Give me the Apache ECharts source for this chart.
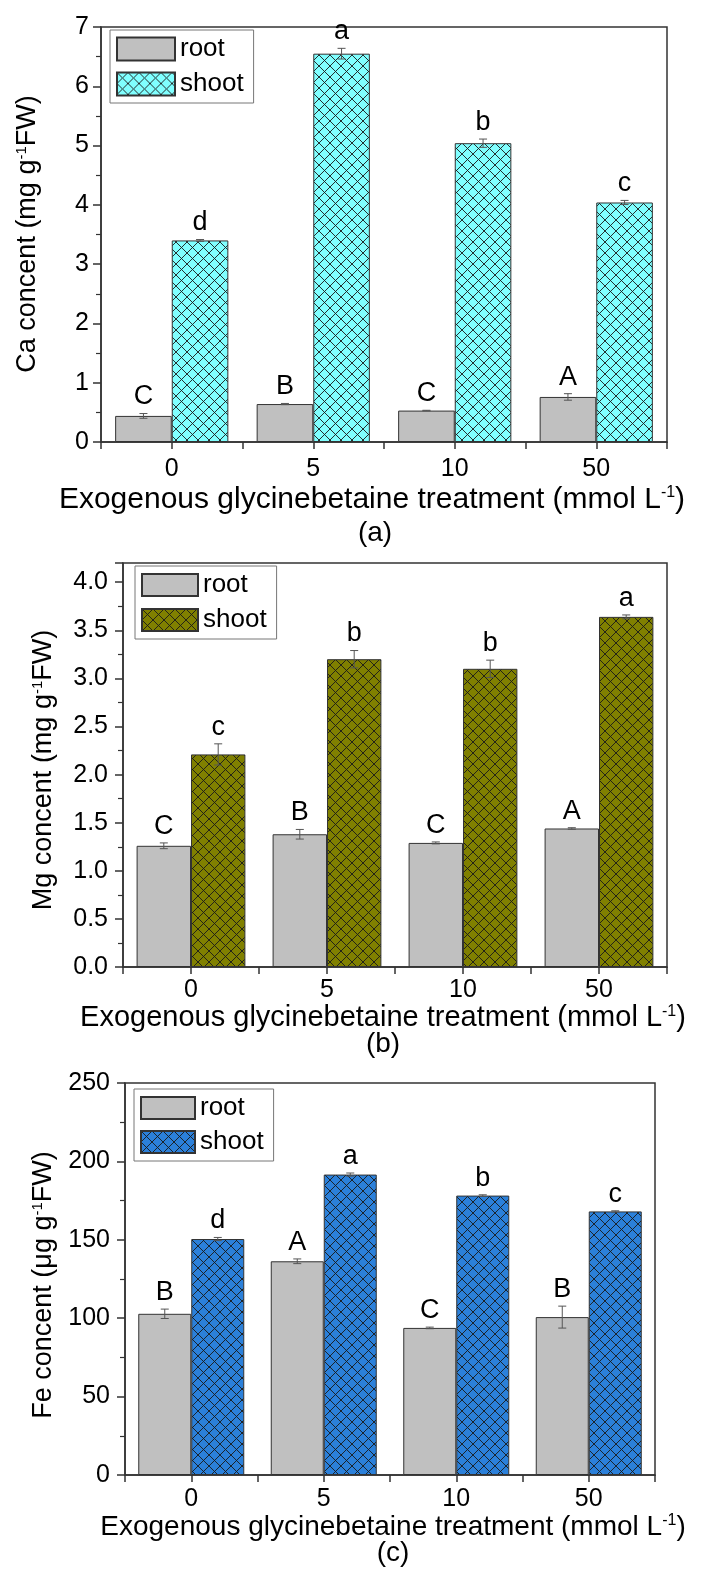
<!DOCTYPE html>
<html>
<head>
<meta charset="utf-8">
<title>Ca / Mg / Fe concent</title>
<script src="https://cdn.jsdelivr.net/npm/echarts/dist/echarts.min.js"></script>
<style>
    html, body { margin: 0; padding: 0; background: #fff; }
    .panel { position: absolute; left: 0; width: 702px; }
</style>
</head>
<body>
<div id="pa" class="panel" style="top:0;height:555px"></div>
<div id="pb" class="panel" style="top:555px;height:515px"></div>
<div id="pc" class="panel" style="top:1070px;height:512px"></div>
<script>
const categories = ['0', '5', '10', '50']
const seriesNames = ['root', 'shoot']

// (a) Ca, mg g-1 FW
const caRoot = [0.44, 0.64, 0.53, 0.76]
const caRootErr = [0.04, 0.01, 0.005, 0.055]
const caShoot = [3.40, 6.55, 5.04, 4.04]
const caShootErr = [0.015, 0.09, 0.07, 0.035]
const caRootLetters = ['C', 'B', 'C', 'A']
const caShootLetters = ['d', 'a', 'b', 'c']

// (b) Mg, mg g-1 FW
const mgRoot = [1.26, 1.38, 1.29, 1.44]
const mgRootErr = [0.03, 0.05, 0.01, 0.008]
const mgShoot = [2.21, 3.20, 3.10, 3.64]
const mgShootErr = [0.11, 0.09, 0.09, 0.02]
const mgRootLetters = ['C', 'B', 'C', 'A']
const mgShootLetters = ['c', 'b', 'b', 'a']

// (c) Fe, ug g-1 FW
const feRoot = [102.8, 136.3, 93.8, 100.7]
const feRootErr = [3, 1.5, 0.5, 7]
const feShoot = [150.5, 191.6, 178.2, 168.1]
const feShootErr = [1, 1, 0.5, 0.4]
const feRootLetters = ['B', 'A', 'C', 'B']
const feShootLetters = ['d', 'a', 'b', 'c']

// y axis ranges [max, step]
const caTicks = [7, 1]
const mgTicks = [4.2, 0.5]
const feTicks = [250, 50]

const FONT = '"Liberation Sans", Arial, sans-serif'
const AX = '#333'

function hatch(fill) {
    const s = 11
    const c = document.createElement('canvas')
    c.width = c.height = s
    const g = c.getContext('2d')
    g.fillStyle = fill
    g.fillRect(0, 0, s, s)
    g.strokeStyle = 'rgba(25,25,25,0.9)'
    g.lineWidth = 1
    g.beginPath()
    g.moveTo(-1, -1); g.lineTo(s + 1, s + 1)
    g.moveTo(s + 1, -1); g.lineTo(-1, s + 1)
    g.stroke()
    return c
}

// error bar + significance letter, drawn over the bar at side -1 (root) / +1 (shoot)
function errorSeries(vals, errs, letters, side, font) {
    return {
        type: 'custom',
        silent: true,
        z: 5,
        data: vals.map((v, i) => [i, v, errs[i]]),
        renderItem: (params, api) => {
            const i = api.value(0), v = api.value(1), e = api.value(2)
            const hi = api.coord([i, v + e])
            const lo = api.coord([i, v - e])
            const bw = api.size([1, 0])[0]
            const x = hi[0] + side * bw * 0.2
            const st = { stroke: '#555', lineWidth: 1 }
            return {
                type: 'group',
                children: [
                    { type: 'line', shape: { x1: x, y1: hi[1], x2: x, y2: lo[1] }, style: st },
                    { type: 'line', shape: { x1: x - 4, y1: hi[1], x2: x + 4, y2: hi[1] }, style: st },
                    { type: 'line', shape: { x1: x - 4, y1: lo[1], x2: x + 4, y2: lo[1] }, style: st },
                    {
                        type: 'text',
                        style: {
                            text: letters[params.dataIndex], x: x, y: hi[1] - 3,
                            align: 'center', verticalAlign: 'bottom',
                            fontSize: font, fontFamily: FONT, fill: '#000'
                        }
                    }
                ]
            }
        }
    }
}

function drawPanel(dom, p) {
    const chart = echarts.init(dom)
    const line = { color: AX, width: 1.5 }
    const step = p.ticks[1]

    const option = {
        animation: false,
        grid: Object.assign({ show: true, borderColor: AX, borderWidth: 1.5, containLabel: false, outerBoundsMode: 'none' }, p.grid),
        legend: Object.assign({
            orient: 'vertical',
            data: seriesNames,
            icon: 'rect',
            selectedMode: false,
            textStyle: { fontSize: 26, fontFamily: FONT, color: '#000' },
            padding: [6, 10, 6, 6],
            borderColor: '#777',
            borderWidth: 1,
            backgroundColor: '#fff'
        }, p.legend),
        xAxis: [
            {
                type: 'category',
                data: categories,
                axisLine: { show: true, onZero: false, lineStyle: line },
                axisTick: { show: true, alignWithLabel: true, length: 7, lineStyle: line },
                axisLabel: { color: '#000', fontSize: 25, fontFamily: FONT, margin: p.xLabelMargin },
                splitLine: { show: false }
            },
            {
                // ticks on the category boundaries
                type: 'category',
                data: categories,
                position: 'bottom',
                axisLine: { show: false },
                axisTick: { show: true, length: 7, lineStyle: line },
                axisLabel: { show: false },
                splitLine: { show: false }
            }
        ],
        yAxis: {
            type: 'value',
            min: 0,
            max: p.ticks[0],
            interval: step,
            axisLine: { show: true, lineStyle: line },
            axisTick: { show: true, length: 8, lineStyle: line },
            minorTick: { show: true, splitNumber: 2, length: 5, lineStyle: { color: AX, width: 1.2 } },
            splitLine: { show: false },
            minorSplitLine: { show: false },
            axisLabel: {
                color: '#000', fontSize: 25, fontFamily: FONT, margin: p.yLabelMargin,
                formatter: v => Math.abs(v / step - Math.round(v / step)) < 1e-6 ? v.toFixed(p.decimals) : ''
            }
        },
        series: [
            {
                name: 'root',
                type: 'bar',
                data: p.root,
                barGap: '0%',
                barCategoryGap: '20%',
                itemStyle: { color: '#c0c0c0', borderColor: AX, borderWidth: 1 }
            },
            {
                name: 'shoot',
                type: 'bar',
                data: p.shoot,
                barGap: '0%',
                barCategoryGap: '20%',
                itemStyle: { color: { image: hatch(p.shootColor), repeat: 'repeat' }, borderColor: AX, borderWidth: 1 }
            },
            errorSeries(p.root, p.rootErr, p.rootLetters, -1, 27),
            errorSeries(p.shoot, p.shootErr, p.shootLetters, 1, 27)
        ],
        graphic: [
            {
                type: 'text', x: p.yTitle[0], y: p.yTitle[1], rotation: Math.PI / 2,
                style: {
                    text: `{n|${p.element} concent (${p.unit} g}{s|-1}{n|FW)}`,
                    align: 'center', verticalAlign: 'middle',
                    rich: {
                        n: { fontSize: 27, fontFamily: FONT, fill: '#000' },
                        s: { fontSize: 15, fontFamily: FONT, fill: '#000', verticalAlign: 'top' }
                    }
                }
            },
            {
                type: 'text', x: p.xTitle[0], y: p.xTitle[1],
                style: {
                    text: '{n|Exogenous glycinebetaine treatment (mmol L}{s|-1}{n|)}',
                    align: 'center', verticalAlign: 'middle',
                    rich: {
                        n: { fontSize: p.titleFont, fontFamily: FONT, fill: '#000' },
                        s: { fontSize: 16, fontFamily: FONT, fill: '#000', verticalAlign: 'top' }
                    }
                }
            },
            {
                type: 'text', x: p.tag[0], y: p.tag[1],
                style: { text: p.tag[2], align: 'center', verticalAlign: 'middle', fontSize: 28, fontFamily: FONT, fill: '#000' }
            }
        ]
    }
    chart.setOption(option)
}

drawPanel(document.getElementById('pa'), {
    element: 'Ca', unit: 'mg',
    root: caRoot, rootErr: caRootErr, shoot: caShoot, shootErr: caShootErr,
    rootLetters: caRootLetters, shootLetters: caShootLetters,
    ticks: caTicks, decimals: 0, shootColor: '#80ffff',
    grid: { left: 101, top: 27, width: 566, height: 415 },
    legend: { left: 110, top: 30, itemWidth: 58, itemHeight: 23, itemGap: 9 },
    xLabelMargin: 15, yLabelMargin: 12, titleFont: 30,
    yTitle: [28, 234], xTitle: [372, 500], tag: [375, 533, '(a)']
})

drawPanel(document.getElementById('pb'), {
    element: 'Mg', unit: 'mg',
    root: mgRoot, rootErr: mgRootErr, shoot: mgShoot, shootErr: mgShootErr,
    rootLetters: mgRootLetters, shootLetters: mgShootLetters,
    ticks: mgTicks, decimals: 1, shootColor: '#808000',
    grid: { left: 123, top: 8, width: 544, height: 404 },
    legend: { left: 135, top: 11, itemWidth: 56, itemHeight: 22, itemGap: 9 },
    xLabelMargin: 11, yLabelMargin: 15, titleFont: 29,
    yTitle: [44, 215], xTitle: [383, 463], tag: [383, 489, '(b)']
})

drawPanel(document.getElementById('pc'), {
    element: 'Fe', unit: 'μg',
    root: feRoot, rootErr: feRootErr, shoot: feShoot, shootErr: feShootErr,
    rootLetters: feRootLetters, shootLetters: feShootLetters,
    ticks: feTicks, decimals: 0, shootColor: '#2b80da',
    grid: { left: 125, top: 13, width: 530, height: 392 },
    legend: { left: 134, top: 19, itemWidth: 54, itemHeight: 22, itemGap: 8 },
    xLabelMargin: 12, yLabelMargin: 15, titleFont: 28,
    yTitle: [44, 215], xTitle: [393, 457], tag: [393, 483, '(c)']
})
</script>
</body>
</html>
